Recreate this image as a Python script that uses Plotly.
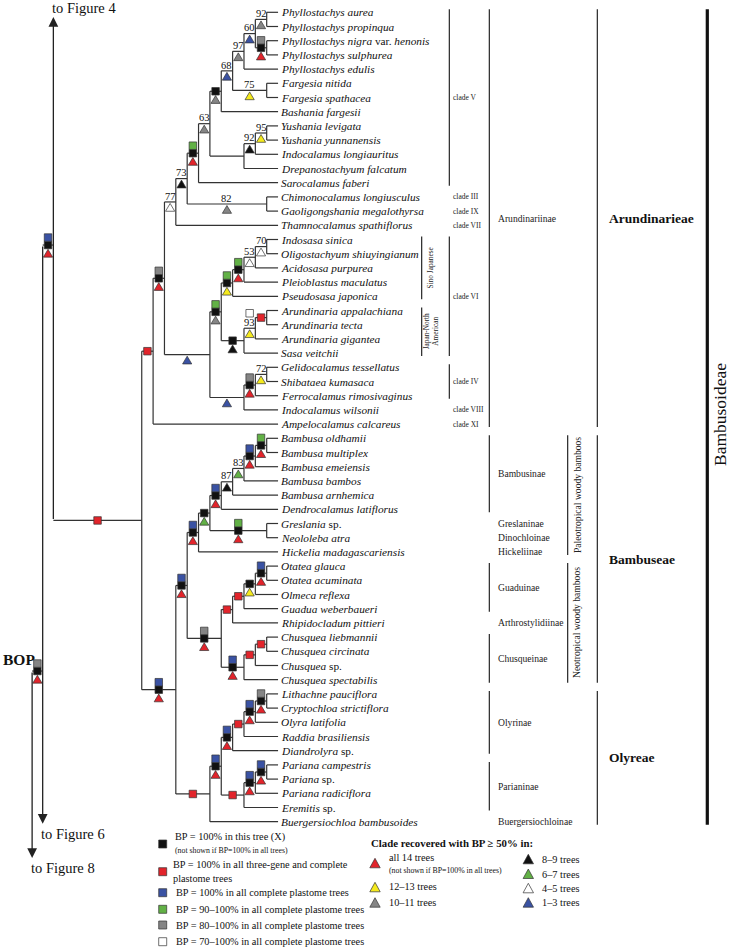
import plotly.graph_objects as go

W, H = 732, 947
X0, XS = 278.06, 11.36   # tip position (px) and px per node level
Y0, YS = 12.3, 14.2      # first taxon (px) and px per taxon
FONT = "Liberation Serif, Times New Roman, serif"

TAXA = [
    "Phyllostachys aurea", "Phyllostachys propinqua", "Phyllostachys nigra var. henonis",
    "Phyllostachys sulphurea", "Phyllostachys edulis", "Fargesia nitida", "Fargesia spathacea",
    "Bashania fargesii", "Yushania levigata", "Yushania yunnanensis", "Indocalamus longiauritus",
    "Drepanostachyum falcatum", "Sarocalamus faberi", "Chimonocalamus longiusculus",
    "Gaoligongshania megalothyrsa", "Thamnocalamus spathiflorus", "Indosasa sinica",
    "Oligostachyum shiuyingianum", "Acidosasa purpurea", "Pleioblastus maculatus",
    "Pseudosasa japonica", "Arundinaria appalachiana", "Arundinaria tecta", "Arundinaria gigantea",
    "Sasa veitchii", "Gelidocalamus tessellatus", "Shibataea kumasaca", "Ferrocalamus rimosivaginus",
    "Indocalamus wilsonii", "Ampelocalamus calcareus", "Bambusa oldhamii", "Bambusa multiplex",
    "Bambusa emeiensis", "Bambusa bambos", "Bambusa arnhemica", "Dendrocalamus latiflorus",
    "Greslania sp.", "Neololeba atra", "Hickelia madagascariensis", "Otatea glauca",
    "Otatea acuminata", "Olmeca reflexa", "Guadua weberbaueri", "Rhipidocladum pittieri",
    "Chusquea liebmannii", "Chusquea circinata", "Chusquea sp.", "Chusquea spectabilis",
    "Lithachne pauciflora", "Cryptochloa strictiflora", "Olyra latifolia", "Raddia brasiliensis",
    "Diandrolyra sp.", "Pariana campestris", "Pariana sp.", "Pariana radiciflora", "Eremitis sp.",
    "Buergersiochloa bambusoides"]

CHILDREN = {
    "aur": [0, 1], "nig": [2, 3], "n60": ["aur", "nig"], "n97": ["n60", 4], "n75": [5, 6],
    "n68": ["n97", "n75"], "bash": ["n68", 7], "n95": [8, 9], "n92": ["n95", 10],
    "drep": ["n92", 11], "n63": ["bash", "drep"], "saro": ["n63", 12], "n82": [13, 14],
    "n73": ["saro", "n82"], "n77": ["n73", 15], "n70": [16, 17], "n53": ["n70", 18],
    "pleio": ["n53", 19], "sj": ["pleio", 20], "atec": [21, 22], "n93": ["atec", 23],
    "jna": ["n93", 24], "vi": ["sj", "jna"], "n72": [25, 26], "iv": ["n72", 27],
    "viii": ["iv", 28], "vi_iv": ["vi", "viii"], "core": ["n77", "vi_iv"], "arund": ["core", 29],
    "old": [30, 31], "eme": ["old", 32], "n83": ["eme", 33], "n87": ["n83", 34],
    "bambusinae": ["n87", 35], "gres": [36, 37], "bg": ["bambusinae", "gres"], "paleo": ["bg", 38],
    "otat": [39, 40], "olm": ["otat", 41], "guad": ["olm", 42], "ga": ["guad", 43],
    "chl": [44, 45], "chsp": ["chl", 46], "chus": ["chsp", 47], "neo": ["ga", "chus"],
    "bambuseae": ["paleo", "neo"],
    "lith": [48, 49], "olyra": ["lith", 50], "raddia": ["olyra", 51], "olyrinae": ["raddia", 52],
    "par": [53, 54], "parrad": ["par", 55], "parianinae": ["parrad", 56],
    "op": ["olyrinae", "parianinae"], "olyreae": ["op", 57], "bo": ["bambuseae", "olyreae"],
    "bamb": ["arund", "bo"],
}

# backbone nodes leading to other figures (level, y index, arrow tip y index, label)
BACKBONE = ["r1", "r2", "r3"]
BACKBONE_LEVEL = [19.78, 20.72, 21.65]
BACKBONE_Y = [16.39, 46.39, None]
ARROW_TIP = [0.33, 57.15, 59.55]
ARROW_TEXT = ["to Figure 4", "to Figure 6", "to Figure 8"]

SQUARES = {
    "nig": ["gray", "black"], "bash": ["black"], "saro": ["green", "black"],
    "pleio": ["green", "black"], "sj": ["green", "black"], "atec": ["red"], "n93": ["white"],
    "jna": ["black"], "vi": ["green", "black"], "iv": ["gray", "black"], "core": ["gray", "black"],
    "arund": ["red"], "old": ["green", "black"], "eme": ["blue", "black"],
    "bambusinae": ["blue", "black"], "gres": ["green", "black"], "bg": ["black"],
    "paleo": ["blue", "black"], "otat": ["blue", "black"], "olm": ["black"], "guad": ["red"],
    "ga": ["red"], "chl": ["red"], "chsp": ["red"], "chus": ["blue", "black"],
    "neo": ["gray", "black"], "bambuseae": ["blue", "black"], "lith": ["gray", "black"],
    "olyra": ["blue", "black"], "raddia": ["red"], "olyrinae": ["blue", "black"],
    "par": ["blue", "black"], "parrad": ["blue", "black"], "parianinae": ["red"],
    "op": ["blue", "black"], "olyreae": ["red"], "bo": ["blue", "black"], "bamb": ["red"],
    "r1": ["blue", "black"], "r2": ["gray", "black"],
}
TRIANGLE = {
    "aur": "gray", "nig": "red", "n60": "blue", "n97": "gray", "n75": "yellow", "n68": "blue",
    "bash": "gray", "n95": "yellow", "n92": "black", "n63": "gray", "saro": "red",
    "n82": "gray", "n73": "black", "n77": "white", "n70": "white", "n53": "white",
    "pleio": "red", "sj": "yellow", "n93": "yellow", "jna": "black", "vi": "gray",
    "n72": "yellow", "iv": "red", "viii": "blue", "vi_iv": "blue", "core": "red",
    "old": "red", "eme": "red", "n83": "green", "n87": "black", "bambusinae": "red",
    "gres": "red", "bg": "green", "paleo": "red", "otat": "red", "olm": "yellow",
    "chus": "red", "neo": "red", "bambuseae": "red", "lith": "red", "olyra": "red",
    "olyrinae": "red", "par": "red", "parrad": "red", "op": "red", "bo": "red",
    "r1": "red", "r2": "red",
}
BOOT = {"aur": "92", "n60": "60", "n97": "97", "n75": "75", "n68": "68", "n95": "95",
        "n92": "92", "n63": "63", "n82": "82", "n73": "73", "n77": "77", "n70": "70",
        "n53": "53", "n93": "93", "n72": "72", "n83": "83", "n87": "87"}

COLORS = {"black": "#111111", "red": "#e2242b", "blue": "#3a52a3", "green": "#62b146",
          "gray": "#858585", "yellow": "#f5ea1e", "white": "#ffffff"}

# classification brackets: (label, first taxon, last taxon, column px)
BRACKETS = [
    ("clade V", 0, 12, 449.3), ("clade VI", 16, 24, 449.3), ("clade IV", 25, 27, 449.3),
    ("Sino Japanese", 16, 20, 421.7), ("Japan-North<br>American", 21, 24, 421.7),
    ("Arundinariinae", 0, 29, 489.3), ("Bambusinae", 30, 35, 489.3),
    ("Guaduinae", 39, 42, 489.3), ("Chusqueinae", 44, 47, 489.3),
    ("Olyrinae", 48, 52, 489.3), ("Parianinae", 53, 56, 489.3),
    ("Paleotropical woody bamboos", 30, 38, 567.7), ("Neotropical woody bamboos", 39, 47, 567.7),
    ("Arundinarieae", 0, 29, 597.3), ("Bambuseae", 30, 47, 597.3), ("Olyreae", 48, 57, 597.3),
    ("Bambusoideae", 0, 57, 707.3)]
SINGLE_LABELS = [("clade III", 13, 449.3), ("clade IX", 14, 449.3), ("clade VII", 15, 449.3),
                 ("clade VIII", 28, 449.3), ("clade XI", 29, 449.3),
                 ("Greslaninae", 36, 489.3), ("Dinochloinae", 37, 489.3),
                 ("Hickeliinae", 38, 489.3), ("Arthrostylidiinae", 43, 489.3),
                 ("Buergersiochloinae", 57, 489.3)]

SQ_LEGEND = [("black", ["BP = 100% in this tree (X)"], "(not shown if BP=100% in all trees)"),
             ("red", ["BP = 100% in all three-gene and complete", "plastome trees"], None),
             ("blue", ["BP = 100% in all complete plastome trees"], None),
             ("green", ["BP = 90–100% in all complete plastome trees"], None),
             ("gray", ["BP = 80–100% in all complete plastome trees"], None),
             ("white", ["BP = 70–100% in all complete plastome trees"], None)]
TRI_LEGEND = [("red", "all 14 trees", "(not shown if BP=100% in all trees)"),
              ("yellow", "12–13 trees", None), ("gray", "10–11 trees", None),
              ("black", "8–9 trees", None), ("green", "6–7 trees", None),
              ("white", "4–5 trees", None), ("blue", "1–3 trees", None)]


def hx(px):
    return (X0 - px) / XS


def iy(py):
    return (py - Y0) / YS


def display(name):
    out = []
    for w in name.split(" "):
        out.append(w if w in ("var.", "sp.") else "<i>" + w + "</i>")
    s = " ".join(out)
    return s.replace("</i> <i>", " ")


# ---- layout of the tree -------------------------------------------------
level, ypos, parent = {}, {}, {}


def place(n):
    if isinstance(n, int):
        level[n], ypos[n] = 0, float(n)
        return
    for c in CHILDREN[n]:
        place(c)
        parent[c] = n
    level[n] = 1 + max(level[c] for c in CHILDREN[n])
    ypos[n] = (ypos[CHILDREN[n][0]] + ypos[CHILDREN[n][-1]]) / 2


place("bamb")
for k, name in enumerate(BACKBONE):
    level[name] = BACKBONE_LEVEL[k]
    ypos[name] = BACKBONE_Y[k]
parent["bamb"], parent["r1"], parent["r2"] = "r1", "r2", "r3"

lx, ly = [], []
for n, ch in CHILDREN.items():
    lx += [level[n], level[n], None]
    ly += [ypos[ch[0]], ypos[ch[-1]], None]
for c, p in parent.items():
    lx += [level[p], level[c], None]
    ly += [ypos[c], ypos[c], None]

fig = go.Figure()
fig.add_trace(go.Scatter(x=lx, y=ly, mode="lines", line=dict(color="#333333", width=1.2),
                         hoverinfo="skip"))

annotations, shapes = [], []
# arrows to other figures
for k, name in enumerate(BACKBONE):
    tail = ypos["bamb"] if k == 0 else ypos[BACKBONE[k - 1]]
    annotations.append(dict(x=level[name], y=ARROW_TIP[k], ax=level[name], ay=tail,
                            xref="x", yref="y", axref="x", ayref="y", text="",
                            showarrow=True, arrowhead=2, arrowsize=1.5, arrowwidth=1.3,
                            arrowcolor="#222222", standoff=0))
text_pos = [(50, 7.5), (39, 834), (29, 868)]
for k, t in enumerate(ARROW_TEXT):
    annotations.append(dict(x=hx(text_pos[k][0]), y=iy(text_pos[k][1]), text=t, xref="x",
                            yref="y", showarrow=False, xanchor="left", yanchor="middle",
                            font=dict(family=FONT, size=14.5, color="#111")))
annotations.append(dict(x=hx(1), y=iy(659), text="<b>BOP</b>", xref="x", yref="y",
                        showarrow=False, xanchor="left", yanchor="middle",
                        font=dict(family=FONT, size=15.5, color="#111")))

# node markers
sq = {c: ([], []) for c in COLORS}
tri = {c: ([], []) for c in COLORS}
SQ = 7.5
for n in list(parent.keys()):
    if n not in SQUARES and n not in TRIANGLE and n not in BOOT:
        continue
    p = parent[n]
    mx = (level[p] + level[n]) / 2
    yb = ypos[n]
    squares = SQUARES.get(n, [])
    centered = bool(squares) and ("black" in squares or n not in BOOT)
    for k, col in enumerate(squares):
        if centered:
            off = -SQ * (len(squares) - 1 - k)
        else:
            off = -15
        sq[col][0].append(mx)
        sq[col][1].append(yb + off / YS)
    if n in TRIANGLE:
        top = 4.3 if centered else 1.5
        hw, ht = 4.6, 7.8
        xs = [mx, mx + hw / XS, mx - hw / XS, mx, None]
        ys = [yb + top / YS, yb + (top + ht) / YS, yb + (top + ht) / YS, yb + top / YS, None]
        tri[TRIANGLE[n]][0].extend(xs)
        tri[TRIANGLE[n]][1].extend(ys)
    if n in BOOT:
        annotations.append(dict(x=mx, y=yb - 5.8 / YS, text=BOOT[n], xref="x", yref="y",
                                showarrow=False, xanchor="center", yanchor="middle",
                                font=dict(family=FONT, size=10.5, color="#111")))

for col, (xs, ys) in sq.items():
    if xs:
        fig.add_trace(go.Scatter(x=xs, y=ys, mode="markers", hoverinfo="skip",
                                 marker=dict(symbol="square", size=SQ, color=COLORS[col],
                                             line=dict(color="#333333", width=0.7))))
for col, (xs, ys) in tri.items():
    if xs:
        fig.add_trace(go.Scatter(x=xs, y=ys, mode="lines", fill="toself", hoverinfo="skip",
                                 fillcolor=COLORS[col], line=dict(color="#333333", width=0.7)))

# tip labels
for i, name in enumerate(TAXA):
    annotations.append(dict(x=0, y=i, text=display(name), xref="x", yref="y", xshift=1,
                            showarrow=False, xanchor="left", yanchor="middle",
                            font=dict(family=FONT, size=11.3, color="#111")))

# brackets and group labels
for lab, a, b, col in BRACKETS:
    y0, y1 = a - 3 / YS, b + 3 / YS
    width = 3.2 if lab == "Bambusoideae" else 1.1
    shapes.append(dict(type="line", xref="x", yref="y", x0=hx(col), x1=hx(col), y0=y0, y1=y1,
                       line=dict(color="#111111", width=width)))
    mid = (a + b) / 2
    if col == 449.3:
        annotations.append(dict(x=hx(col + 2), y=mid, text=lab, xref="x", yref="y",
                                showarrow=False, xanchor="left", yanchor="middle",
                                font=dict(family=FONT, size=7.5, color="#222")))
    elif col == 421.7:
        annotations.append(dict(x=hx(430.5), y=mid, text=lab, xref="x", yref="y",
                                showarrow=False, xanchor="center", yanchor="middle",
                                textangle=-90,
                                font=dict(family=FONT, size=7.3, color="#222")))
    elif col == 489.3:
        annotations.append(dict(x=hx(col + 6.5), y=mid, text=lab, xref="x", yref="y",
                                showarrow=False, xanchor="left", yanchor="middle",
                                font=dict(family=FONT, size=9.6, color="#222")))
    elif col == 567.7:
        annotations.append(dict(x=hx(577), y=mid, text=lab, xref="x", yref="y",
                                showarrow=False, xanchor="center", yanchor="middle",
                                textangle=-90,
                                font=dict(family=FONT, size=9.6, color="#222")))
    elif col == 597.3:
        annotations.append(dict(x=hx(col + 10), y=mid, text="<b>" + lab + "</b>", xref="x",
                                yref="y", showarrow=False, xanchor="left", yanchor="middle",
                                font=dict(family=FONT, size=13.5, color="#111")))
    else:
        annotations.append(dict(x=hx(720), y=iy(415), text=lab, xref="x", yref="y",
                                showarrow=False, xanchor="center", yanchor="middle",
                                textangle=-90,
                                font=dict(family=FONT, size=17.5, color="#111")))
for lab, i, col in SINGLE_LABELS:
    if col == 449.3:
        annotations.append(dict(x=hx(col + 2), y=i, text=lab, xref="x", yref="y",
                                showarrow=False, xanchor="left", yanchor="middle",
                                font=dict(family=FONT, size=7.5, color="#222")))
    else:
        annotations.append(dict(x=hx(col + 6.5), y=i, text=lab, xref="x", yref="y",
                                showarrow=False, xanchor="left", yanchor="middle",
                                font=dict(family=FONT, size=9.6, color="#222")))

# legend (pixel layout)
sq_rows = [(844, 837.3, 850), (871.7, 864.3, None), (892.7, 892.7, None), (909.3, 909.3, None),
           (925, 925, None), (941.7, 941.7, None)]
for k, (col, lines, sub) in enumerate(SQ_LEGEND):
    cy, ty, sy = sq_rows[k]
    shapes.append(dict(type="rect", xref="x", yref="y", x0=hx(158.7), x1=hx(166.7),
                       y0=iy(cy - 4), y1=iy(cy + 4), fillcolor=COLORS[col],
                       line=dict(color="#333333", width=0.7)))
    tx = 173.3 if k == 0 else (170.7 if k == 1 else 174)
    for j, line in enumerate(lines):
        annotations.append(dict(x=hx(tx), y=iy(ty + 14 * j), text=line, xref="x", yref="y",
                                showarrow=False, xanchor="left", yanchor="middle",
                                font=dict(family=FONT, size=10.3, color="#111")))
    if sub:
        annotations.append(dict(x=hx(tx), y=iy(sy), text=sub, xref="x", yref="y",
                                showarrow=False, xanchor="left", yanchor="middle",
                                font=dict(family=FONT, size=7.8, color="#111")))
annotations.append(dict(x=hx(369), y=iy(842.7), text="<b>Clade recovered with BP ≥ 50% in:</b>",
                        xref="x", yref="y", showarrow=False, xanchor="left", yanchor="middle",
                        font=dict(family=FONT, size=10.8, color="#111")))
tri_rows = [(375, 863.3, 857.3, 870), (375, 887.3, 886, None), (375, 902.7, 902.7, None),
            (528.3, 859.3, 859.3, None), (528.3, 874, 874, None), (528.3, 888.3, 888.3, None),
            (528.3, 902.7, 902.7, None)]
for k, (col, txt, sub) in enumerate(TRI_LEGEND):
    cx, cy, ty, sy = tri_rows[k]
    path = "M {a},{b} L {c},{d} L {e},{d} Z".format(a=hx(cx), b=iy(cy - 5), c=hx(cx + 5.2),
                                                   d=iy(cy + 4.5), e=hx(cx - 5.2))
    shapes.append(dict(type="path", xref="x", yref="y", path=path, fillcolor=COLORS[col],
                       line=dict(color="#333333", width=0.7)))
    annotations.append(dict(x=hx(cx + 11.7), y=iy(ty), text=txt, xref="x", yref="y",
                            showarrow=False, xanchor="left", yanchor="middle",
                            font=dict(family=FONT, size=10.3, color="#111")))
    if sub:
        annotations.append(dict(x=hx(cx + 11.7), y=iy(sy), text=sub, xref="x", yref="y",
                                showarrow=False, xanchor="left", yanchor="middle",
                                font=dict(family=FONT, size=7.8, color="#111")))

fig.update_layout(
    width=W, height=H, margin=dict(l=0, r=0, t=0, b=0), showlegend=False,
    paper_bgcolor="white", plot_bgcolor="white",
    xaxis=dict(range=[X0 / XS, (X0 - W) / XS], visible=False, fixedrange=True),
    yaxis=dict(range=[(H - Y0) / YS, -Y0 / YS], visible=False, fixedrange=True),
    annotations=annotations, shapes=shapes)

fig.write_html("out.html", config={"displayModeBar": False},
               post_script="document.body.style.margin='0';document.body.style.overflow='hidden';")
